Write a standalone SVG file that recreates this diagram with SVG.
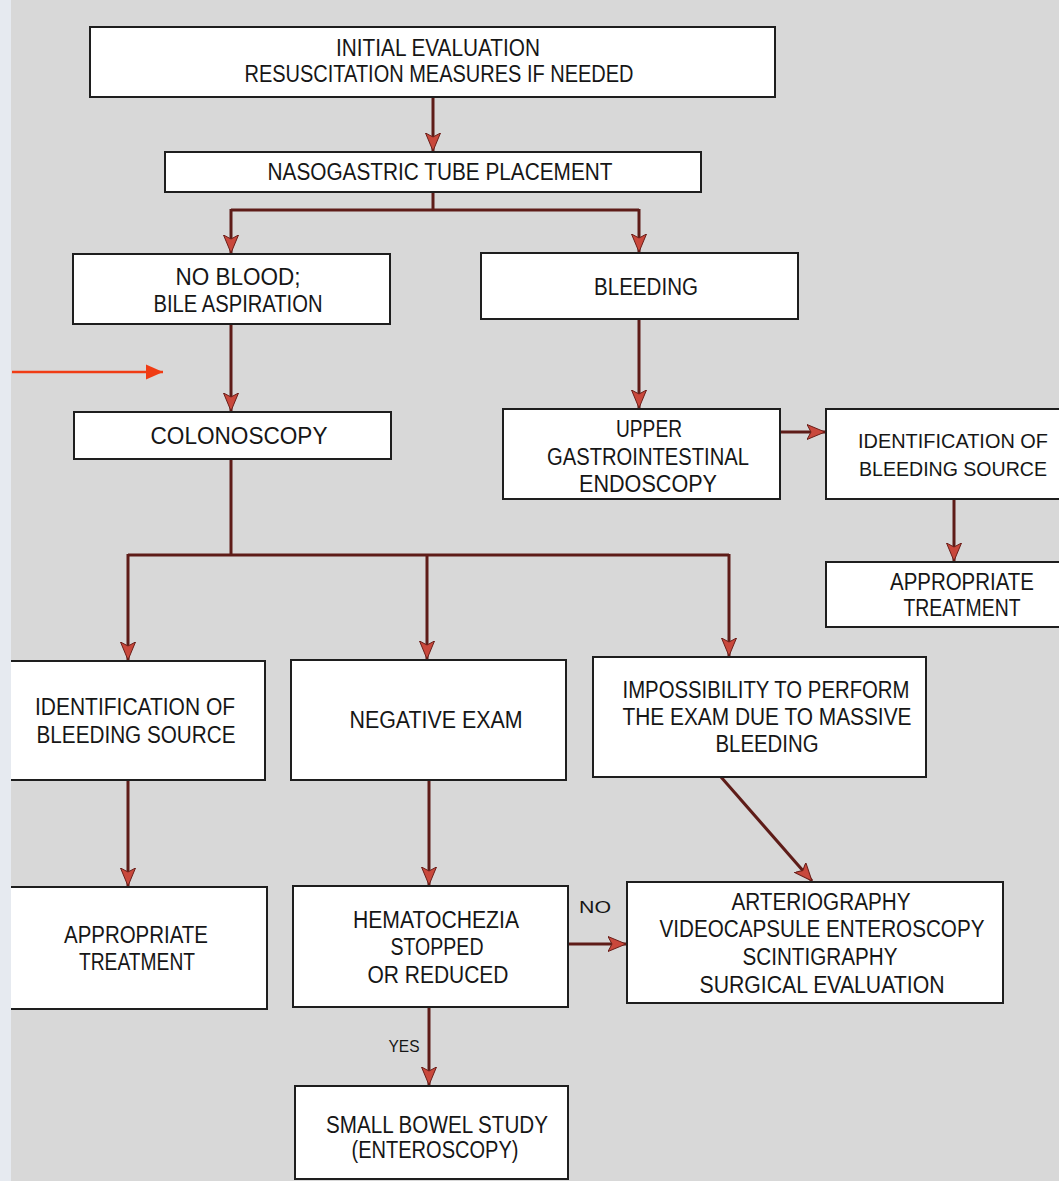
<svg xmlns="http://www.w3.org/2000/svg" width="1059" height="1181" viewBox="0 0 1059 1181">
<style>
.box{fill:#ffffff;stroke:#1e1e1e;stroke-width:2}
.t{font-family:"Liberation Sans",Arial,sans-serif;font-size:23px;fill:#161616;text-anchor:middle}
.ts{font-size:21px}
.lbl{font-family:"Liberation Sans",Arial,sans-serif;font-size:17px;fill:#161616;text-anchor:middle}
.c{fill:none;stroke:#5e1c18;stroke-width:3}
</style>
<defs>
<marker id="ah" markerUnits="userSpaceOnUse" markerWidth="20" markerHeight="16" refX="18" refY="8" orient="auto">
<path d="M0,0.5 L18,8 L0,15.5 L4,8 z" fill="#c9483c" stroke="#6a1e19" stroke-width="1"/>
</marker>
<marker id="ahr" markerUnits="userSpaceOnUse" markerWidth="18" markerHeight="16" refX="17" refY="8" orient="auto">
<path d="M0,0.5 L17,8 L0,15.5 z" fill="#f03c14"/>
</marker>
</defs>
<rect x="0" y="0" width="1059" height="1181" fill="#d8d8d8"/>

<g id="connectors">
<path class="c" d="M433,97 V151" marker-end="url(#ah)"/>
<path class="c" d="M433,192 V210 M231,210 H639"/>
<path class="c" d="M231,209 V253" marker-end="url(#ah)"/>
<path class="c" d="M639,209 V252" marker-end="url(#ah)"/>
<path class="c" d="M231,324 V411" marker-end="url(#ah)"/>
<path class="c" d="M639,319 V408" marker-end="url(#ah)"/>
<path class="c" d="M780,432 H825" marker-end="url(#ah)"/>
<path class="c" d="M954,499 V561" marker-end="url(#ah)"/>
<path class="c" d="M231,459 V555 M128,555 H729"/>
<path class="c" d="M128,554 V660" marker-end="url(#ah)"/>
<path class="c" d="M427,554 V659" marker-end="url(#ah)"/>
<path class="c" d="M729,554 V656" marker-end="url(#ah)"/>
<path class="c" d="M128,780 V886" marker-end="url(#ah)"/>
<path class="c" d="M429,780 V885" marker-end="url(#ah)"/>
<path class="c" d="M721,777 L812,881" marker-end="url(#ah)"/>
<path class="c" d="M568,944 H626" marker-end="url(#ah)"/>
<path class="c" d="M429,1007 V1085" marker-end="url(#ah)"/>
<path d="M12,372 H163" fill="none" stroke="#f03c14" stroke-width="2.5" marker-end="url(#ahr)"/>
<text class="lbl" x="595" y="913" textLength="32" lengthAdjust="spacingAndGlyphs">NO</text>
<text class="lbl" x="404" y="1052" textLength="31" lengthAdjust="spacingAndGlyphs">YES</text>
</g>

<g id="n-initial">
<rect class="box" x="90" y="27" width="685" height="70"/>
<text class="t" x="438" y="56" textLength="204" lengthAdjust="spacingAndGlyphs">INITIAL EVALUATION</text>
<text class="t" x="439" y="82" textLength="389" lengthAdjust="spacingAndGlyphs">RESUSCITATION MEASURES IF NEEDED</text>
</g>
<g id="n-nasogastric">
<rect class="box" x="165" y="152" width="536" height="40"/>
<text class="t" x="440" y="180" textLength="345" lengthAdjust="spacingAndGlyphs">NASOGASTRIC TUBE PLACEMENT</text>
</g>
<g id="n-noblood">
<rect class="box" x="73" y="254" width="317" height="70"/>
<text class="t" x="238" y="285" textLength="125" lengthAdjust="spacingAndGlyphs">NO BLOOD;</text>
<text class="t" x="238" y="312" textLength="169" lengthAdjust="spacingAndGlyphs">BILE ASPIRATION</text>
</g>
<g id="n-bleeding">
<rect class="box" x="481" y="253" width="317" height="66"/>
<text class="t" x="646" y="295" textLength="104" lengthAdjust="spacingAndGlyphs">BLEEDING</text>
</g>
<g id="n-colonoscopy">
<rect class="box" x="74" y="412" width="317" height="47"/>
<text class="t" x="239" y="444" textLength="177" lengthAdjust="spacingAndGlyphs">COLONOSCOPY</text>
</g>
<g id="n-ugi">
<rect class="box" x="503" y="409" width="277" height="90"/>
<text class="t" x="649" y="437" textLength="66" lengthAdjust="spacingAndGlyphs">UPPER</text>
<text class="t" x="648" y="465" textLength="202" lengthAdjust="spacingAndGlyphs">GASTROINTESTINAL</text>
<text class="t" x="648" y="492" textLength="138" lengthAdjust="spacingAndGlyphs">ENDOSCOPY</text>
</g>
<g id="n-ident-right">
<rect class="box" x="826" y="409" width="240" height="90"/>
<text class="t ts" x="953" y="448" textLength="190" lengthAdjust="spacingAndGlyphs">IDENTIFICATION OF</text>
<text class="t ts" x="953" y="476" textLength="188" lengthAdjust="spacingAndGlyphs">BLEEDING SOURCE</text>
</g>
<g id="n-treat-right">
<rect class="box" x="826" y="562" width="240" height="65"/>
<text class="t" x="962" y="590" textLength="144" lengthAdjust="spacingAndGlyphs">APPROPRIATE</text>
<text class="t" x="962" y="616" textLength="117" lengthAdjust="spacingAndGlyphs">TREATMENT</text>
</g>
<g id="n-ident-left">
<rect class="box" x="-5" y="661" width="270" height="119"/>
<text class="t" x="135" y="715" textLength="200" lengthAdjust="spacingAndGlyphs">IDENTIFICATION OF</text>
<text class="t" x="136" y="743" textLength="199" lengthAdjust="spacingAndGlyphs">BLEEDING SOURCE</text>
</g>
<g id="n-negative">
<rect class="box" x="291" y="660" width="275" height="120"/>
<text class="t" x="436" y="728" textLength="173" lengthAdjust="spacingAndGlyphs">NEGATIVE EXAM</text>
</g>
<g id="n-impossibility">
<rect class="box" x="593" y="657" width="333" height="120"/>
<text class="t" x="766" y="698" textLength="287" lengthAdjust="spacingAndGlyphs">IMPOSSIBILITY TO PERFORM</text>
<text class="t" x="767" y="725" textLength="289" lengthAdjust="spacingAndGlyphs">THE EXAM DUE TO MASSIVE</text>
<text class="t" x="767" y="752" textLength="103" lengthAdjust="spacingAndGlyphs">BLEEDING</text>
</g>
<g id="n-treat-left">
<rect class="box" x="-5" y="887" width="272" height="122"/>
<text class="t" x="136" y="943" textLength="144" lengthAdjust="spacingAndGlyphs">APPROPRIATE</text>
<text class="t" x="137" y="970" textLength="116" lengthAdjust="spacingAndGlyphs">TREATMENT</text>
</g>
<g id="n-hematochezia">
<rect class="box" x="293" y="886" width="275" height="121"/>
<text class="t" x="436" y="928" textLength="166" lengthAdjust="spacingAndGlyphs">HEMATOCHEZIA</text>
<text class="t" x="437" y="955" textLength="93" lengthAdjust="spacingAndGlyphs">STOPPED</text>
<text class="t" x="438" y="983" textLength="141" lengthAdjust="spacingAndGlyphs">OR REDUCED</text>
</g>
<g id="n-smallbowel">
<rect class="box" x="295" y="1086" width="273" height="93"/>
<text class="t" x="437" y="1133" textLength="222" lengthAdjust="spacingAndGlyphs">SMALL BOWEL STUDY</text>
<text class="t" x="435" y="1158" textLength="167" lengthAdjust="spacingAndGlyphs">(ENTEROSCOPY)</text>
</g>
<g id="n-arteriography">
<rect class="box" x="627" y="882" width="376" height="121"/>
<text class="t" x="821" y="910" textLength="179" lengthAdjust="spacingAndGlyphs">ARTERIOGRAPHY</text>
<text class="t" x="822" y="937" textLength="325" lengthAdjust="spacingAndGlyphs">VIDEOCAPSULE ENTEROSCOPY</text>
<text class="t" x="820" y="965" textLength="155" lengthAdjust="spacingAndGlyphs">SCINTIGRAPHY</text>
<text class="t" x="822" y="993" textLength="245" lengthAdjust="spacingAndGlyphs">SURGICAL EVALUATION</text>
</g>
<rect x="0" y="0" width="11" height="1181" fill="#e6eaf0"/>
</svg>
